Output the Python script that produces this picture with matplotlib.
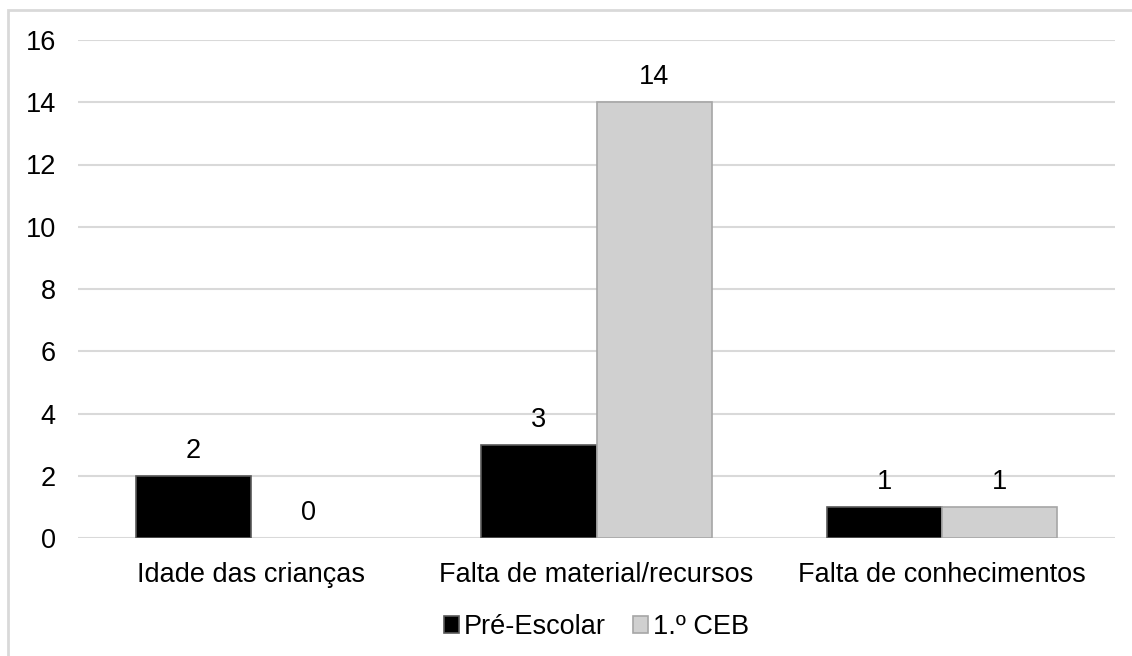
import matplotlib.pyplot as plt
import numpy as np
from matplotlib.patches import Rectangle

categories = ["Idade das crianças", "Falta de material/recursos", "Falta de conhecimentos"]
series_names = ["Pré-Escolar", "1.º CEB"]
pre_escolar = [2, 3, 1]
ceb = [0, 14, 1]
yticks = [0, 2, 4, 6, 8, 10, 12, 14, 16]

plt.rcParams["font.family"] = ["Liberation Sans", "DejaVu Sans"]
FS = 19.5

fig = plt.figure(figsize=(11.32, 6.56), dpi=100)
ax = fig.add_axes([78 / 1132, 1 - 538 / 656, 1037 / 1132, 498 / 656])

# outer chart border (only top/left visible in reference)
fig.patches.append(Rectangle((8 / 1132, -0.1), 1.2, 1 - 10 / 656 + 0.1,
                             transform=fig.transFigure, fill=False,
                             edgecolor="#d9d9d9", linewidth=2))

x = np.arange(len(categories))
w = 1 / 3
b1 = ax.bar(x - w / 2, pre_escolar, w, color="black",
            edgecolor=["#595959" if v else "none" for v in pre_escolar],
            linewidth=1.2, label=series_names[0], zorder=3)
b2 = ax.bar(x + w / 2, ceb, w, color="#d0d0d0",
            edgecolor=["#a6a6a6" if v else "none" for v in ceb],
            linewidth=1.2, label=series_names[1], zorder=3)

for bars in (b1, b2):
    for rect in bars:
        h = rect.get_height()
        ax.annotate(f"{h:g}", (rect.get_x() + rect.get_width() / 2, h),
                    xytext=(0, 8.5), textcoords="offset points",
                    ha="center", va="bottom", fontsize=FS, color="black")

ax.set_xlim(-0.5, 2.5)
ax.set_ylim(0, 16)
ax.set_yticks(yticks)
ax.set_xticks(x)
ax.set_xticklabels(categories)
ax.tick_params(axis="both", length=0, labelsize=FS, colors="black")
ax.tick_params(axis="y", pad=16)
ax.tick_params(axis="x", pad=17)
ax.grid(axis="y", color="#d9d9d9", linewidth=1.5, zorder=0)
ax.set_axisbelow(True)
for s in ax.spines.values():
    s.set_visible(False)

leg = ax.legend(loc="center", bbox_to_anchor=(0.5, (538 - 627) / 498), ncol=2,
                frameon=False, fontsize=FS, handlelength=0.55, handleheight=0.55,
                handletextpad=0.2, columnspacing=1.0, borderpad=0)
leg.legend_handles[1].set_edgecolor("#a6a6a6")

fig.savefig("out.png", dpi=100)
